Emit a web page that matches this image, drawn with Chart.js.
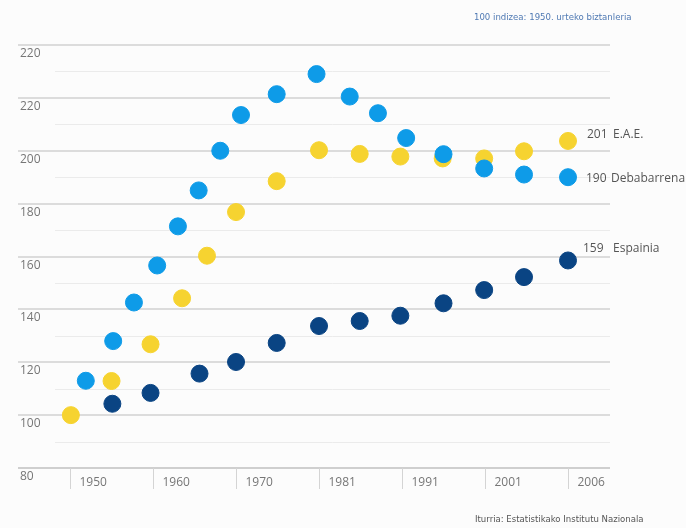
<!DOCTYPE html>
<html>
<head>
<meta charset="utf-8">
<script src="https://cdn.jsdelivr.net/npm/chart.js@4.4.1/dist/chart.umd.min.js"></script>
<style>
  body { margin: 0; background: #fcfcfc; }
  #wrap { position: relative; width: 686px; height: 528px; }
  .note { position: absolute; font-family: 'Liberation Sans Narrow', 'DejaVu Sans Condensed', sans-serif; font-size: 9.5px; white-space: nowrap; }
</style>
</head>
<body>
<div id="wrap">
  <canvas id="chart" width="686" height="528"></canvas>
  <div class="note" style="left:474px; top:11px; color:#4f79b3;">100 indizea: 1950. urteko biztanleria</div>
  <div class="note" style="left:475px; top:513px; color:#555;">Iturria: Estatistikako Institutu Nazionala</div>
</div>
<script>
// categories on the x axis (one slot each)
const categories = ['1950', '1960', '1970', '1981', '1991', '2001', '2006'];
// y tick values and labels as printed (top one reads 220 in the original)
const yTicks = [80, 100, 120, 140, 160, 180, 200, 220, 240];
const yTickLabels = ['80', '100', '120', '140', '160', '180', '200', '220', '220'];

// x = position in category slots, y = index value
const eaePos = [0.01, 0.5, 0.97, 1.35, 1.65, 2.0, 2.49, 3.0, 3.49, 3.98, 4.49, 4.99, 5.47, 6.0];
const eaeValues = [100, 112.9, 126.8, 144.2, 160.3, 176.8, 188.5, 200.2, 198.8, 197.8, 197.1, 197.1, 199.8, 203.7];

const debaPos = [0.19, 0.52, 0.77, 1.05, 1.30, 1.55, 1.81, 2.06, 2.49, 2.97, 3.37, 3.71, 4.05, 4.50, 4.99, 5.47, 6.0];
const debaValues = [113, 128, 142.6, 156.6, 171.4, 185, 200, 213.5, 221.4, 229, 220.5, 214.2, 204.8, 198.7, 193.3, 191, 190];

const espPos = [0.51, 0.97, 1.56, 2.0, 2.49, 3.0, 3.49, 3.98, 4.5, 4.99, 5.47, 6.0];
const espValues = [104.3, 108.4, 115.7, 120.1, 127.3, 133.7, 135.6, 137.6, 142.3, 147.3, 152.2, 158.5];

const seriesNames = ['E.A.E.', 'Debabarrena', 'Espainia'];
const endValues = ['201', '190', '159'];

function pts(xs, ys) {
    return xs.map(function (x, i) { return { x: x, y: ys[i] }; });
}

const axisPlugin = {
    id: 'axisPlugin',
    beforeDatasetsDraw(chart) {
        const ctx = chart.ctx;
        const x = chart.scales.x, y = chart.scales.y;
        const left = chart.chartArea.left, right = chart.chartArea.right;
        ctx.save();
        // minor lines every 10
        ctx.strokeStyle = '#ebebeb';
        ctx.lineWidth = 1;
        for (let v = 90; v < 240; v += 20) {
            const py = Math.round(y.getPixelForValue(v)) + 0.5;
            ctx.beginPath(); ctx.moveTo(55, py); ctx.lineTo(right, py); ctx.stroke();
        }
        // major lines + labels
        ctx.font = '12px "Open Sans", sans-serif';
        ctx.textBaseline = 'middle';
        ctx.textAlign = 'left';
        yTicks.forEach(function (v, i) {
            const py = Math.round(y.getPixelForValue(v));
            ctx.strokeStyle = v === 80 ? '#cfcfcf' : '#dcdcdc';
            ctx.lineWidth = 2;
            ctx.beginPath(); ctx.moveTo(left, py); ctx.lineTo(right, py); ctx.stroke();
            ctx.fillStyle = '#767676';
            ctx.fillText(yTickLabels[i], 20, py + 9);
        });
        // category separators + labels
        const base = Math.round(y.getPixelForValue(80));
        categories.forEach(function (c, i) {
            const px = Math.round(x.getPixelForValue(i)) + 0.5;
            ctx.strokeStyle = '#d4d4d4';
            ctx.lineWidth = 1;
            ctx.beginPath(); ctx.moveTo(px, base); ctx.lineTo(px, base + 21); ctx.stroke();
            ctx.fillStyle = '#767676';
            ctx.fillText(c, px + 9, base + 15);
        });
        ctx.restore();
    },
    afterDatasetsDraw(chart) {
        const ctx = chart.ctx;
        const x = chart.scales.x, y = chart.scales.y;
        ctx.save();
        ctx.font = '12px "Open Sans", sans-serif';
        ctx.textBaseline = 'middle';
        ctx.fillStyle = '#555';
        const lastX = x.getPixelForValue(categories.length - 1);
        const lastY = [eaeValues[eaeValues.length - 1], debaValues[debaValues.length - 1], espValues[espValues.length - 1]];
        const dy = [-6, 1, -12];
        const numOff = [19, 18, 15];
        const nameOff = [45, 43, 45];
        seriesNames.forEach(function (n, i) {
            const py = y.getPixelForValue(lastY[i]) + dy[i];
            ctx.fillText(endValues[i], lastX + numOff[i], py);
            ctx.fillText(n, lastX + nameOff[i], py);
        });
        ctx.restore();
    }
};

new Chart(document.getElementById('chart'), {
    type: 'scatter',
    data: {
        datasets: [
            { label: seriesNames[1], data: pts(debaPos, debaValues), backgroundColor: '#0e9be8', borderColor: '#0e9be8', pointRadius: 8.5, clip: false },
            { label: seriesNames[0], data: pts(eaePos, eaeValues), backgroundColor: '#f6d330', borderColor: '#f6d330', pointRadius: 8.5, clip: false },
            { label: seriesNames[2], data: pts(espPos, espValues), backgroundColor: '#0a4483', borderColor: '#0a4483', pointRadius: 8.5, clip: false }
        ]
    },
    options: {
        responsive: false,
        animation: false,
        layout: { padding: { left: 18, right: 76, top: 45, bottom: 60 } },
        scales: {
            x: { type: 'linear', min: -0.627, max: 6.506, display: false },
            y: { min: 80, max: 240, display: false }
        },
        plugins: { legend: { display: false }, tooltip: { enabled: false } }
    },
    plugins: [axisPlugin]
});
</script>
</body>
</html>
